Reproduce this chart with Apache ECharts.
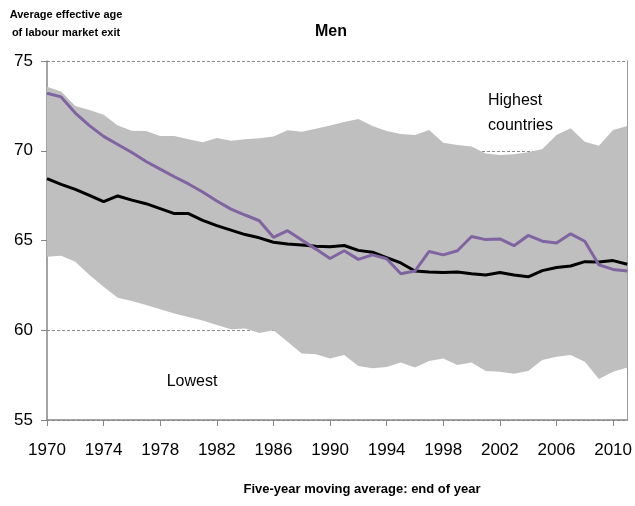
<!DOCTYPE html>
<html>
<head>
<meta charset="UTF-8">
<title>Men</title>
<style type="text/css">
    body,html{ margin: 0; padding: 0; width: 100vw; height: 100vh; overflow: hidden; background: #fff;}
    #chart{ width: 635px; height: 506px;}
</style>
</head>
<body>
<div id="chart"></div>
<script src="https://cdn.jsdelivr.net/npm/echarts@6/dist/echarts.min.js"></script>
<script type="text/javascript">
// years on the x axis
var years = [];
for (var y = 1970; y <= 2011; y++) years.push(String(y));

// lowest country (bottom of the grey band)
var lowest = [64.1, 64.15, 63.82, 63.08, 62.43, 61.81, 61.63, 61.41, 61.17, 60.94,
    60.74, 60.55, 60.29, 60.05, 60.1, 59.85, 60.0, 59.36, 58.71, 58.66,
    58.43, 58.62, 58.01, 57.88, 57.95, 58.21, 57.92, 58.29, 58.43, 58.06,
    58.21, 57.73, 57.69, 57.58, 57.73, 58.34, 58.53, 58.62, 58.25, 57.28,
    57.69, 57.92];

// highest country (top of the grey band)
var highest = [73.57, 73.3, 72.5, 72.27, 72.0, 71.4, 71.12, 71.1, 70.82, 70.82,
    70.64, 70.47, 70.71, 70.56, 70.64, 70.69, 70.79, 71.14, 71.06, 71.23,
    71.4, 71.6, 71.77, 71.38, 71.1, 70.93, 70.88, 71.16, 70.45, 70.32,
    70.23, 69.84, 69.76, 69.8, 69.91, 70.1, 70.88, 71.25, 70.5, 70.28,
    71.16, 71.38];

var oecd = [68.45, 68.13, 67.85, 67.52, 67.16, 67.48, 67.25, 67.05, 66.78, 66.5,
    66.5, 66.12, 65.83, 65.58, 65.33, 65.15, 64.9, 64.8, 64.75, 64.68,
    64.65, 64.72, 64.45, 64.35, 64.05, 63.75, 63.3, 63.25, 63.22, 63.25,
    63.15, 63.08, 63.22, 63.08, 62.98, 63.32, 63.5, 63.58, 63.82, 63.8,
    63.88, 63.68];

var ireland = [73.2, 73.0, 72.1, 71.4, 70.8, 70.35, 69.9, 69.4, 68.98, 68.55,
    68.15, 67.7, 67.2, 66.75, 66.42, 66.1, 65.18, 65.55, 65.03, 64.52,
    64.0, 64.43, 63.95, 64.2, 63.98, 63.15, 63.3, 64.39, 64.2, 64.43,
    65.22, 65.05, 65.09, 64.71, 65.28, 64.96, 64.86, 65.37, 64.96, 63.64,
    63.39, 63.3];

var band = highest.map(function (v, i) { return +(v - lowest[i]).toFixed(2); });

var font = 'Liberation Sans';
var myChart = echarts.init(document.getElementById('chart'));

var option = {
    animation: false,
    textStyle: { fontFamily: font },
    grid: { left: 47, right: 6, top: 61, bottom: 86, containLabel: false },
    xAxis: {
        type: 'category',
        data: years,
        boundaryGap: false,
        axisLine: { lineStyle: { color: '#868686', width: 1.5 } },
        axisTick: { interval: 3, length: 6, lineStyle: { color: '#868686' } },
        axisLabel: { interval: 3, fontSize: 17, color: '#000', margin: 22, fontFamily: font }
    },
    yAxis: [{
        type: 'value',
        min: 55,
        max: 75,
        interval: 5,
        axisLine: { show: true, lineStyle: { color: '#868686', width: 1.5 } },
        axisTick: { show: true, length: 6, lineStyle: { color: '#868686' } },
        axisLabel: { fontSize: 17, color: '#000', margin: 14, fontFamily: font },
        splitLine: { show: true, lineStyle: { color: '#8c8c8c', type: [3, 2], width: 1 } }
    }, {
        type: 'value',
        min: 55,
        max: 75,
        position: 'right',
        axisLine: { show: true, lineStyle: { color: '#9a9a9a', width: 1 } },
        axisTick: { show: false },
        axisLabel: { show: false },
        splitLine: { show: false }
    }],
    series: [{
        name: 'Lowest',
        type: 'line',
        data: lowest,
        stack: 'band',
        symbol: 'none',
        lineStyle: { width: 0, opacity: 0 },
        silent: true
    }, {
        name: 'Range',
        type: 'line',
        data: band,
        stack: 'band',
        symbol: 'none',
        lineStyle: { width: 0, opacity: 0 },
        areaStyle: { color: '#bfbfbf', opacity: 1 },
        silent: true
    }, {
        name: 'OECD average',
        type: 'line',
        data: oecd,
        symbol: 'none',
        lineStyle: { color: '#000', width: 3 },
        z: 3
    }, {
        name: 'Ireland',
        type: 'line',
        data: ireland,
        symbol: 'none',
        lineStyle: { color: '#8064a2', width: 3 },
        z: 4
    }],
    graphic: [
        { type: 'text', x: 331, y: 32, style: { text: 'Men', font: 'bold 16px ' + font, fill: '#000', align: 'center', verticalAlign: 'middle' } },
        { type: 'text', x: 66, y: 24, style: { text: 'Average effective age\nof labour market exit', font: 'bold 11px ' + font, fill: '#000', align: 'center', verticalAlign: 'middle', lineHeight: 18 } },
        { type: 'text', x: 362, y: 489, style: { text: 'Five-year moving average: end of year', font: 'bold 13px ' + font, fill: '#000', align: 'center', verticalAlign: 'middle' } },
        { type: 'text', x: 318, y: 195, style: { text: 'Ireland', font: '16px ' + font, fill: '#000', align: 'center', verticalAlign: 'middle' } },
        { type: 'line', shape: { x1: 264, y1: 213, x2: 286, y2: 196 }, style: { stroke: '#404040', lineWidth: 1 } },
        { type: 'text', x: 488, y: 113, style: { text: 'Highest\ncountries', font: '16px ' + font, fill: '#000', align: 'left', verticalAlign: 'middle', lineHeight: 25 } },
        { type: 'text', x: 487, y: 340, style: { text: 'OECD\naverage', font: '16px ' + font, fill: '#000', align: 'left', verticalAlign: 'middle', lineHeight: 26 } },
        { type: 'line', shape: { x1: 459, y1: 295, x2: 482, y2: 324 }, style: { stroke: '#404040', lineWidth: 1 } },
        { type: 'text', x: 192, y: 382, style: { text: 'Lowest', font: '16px ' + font, fill: '#000', align: 'center', verticalAlign: 'middle' } }
    ]
};

myChart.setOption(option);
</script>
</body>
</html>
